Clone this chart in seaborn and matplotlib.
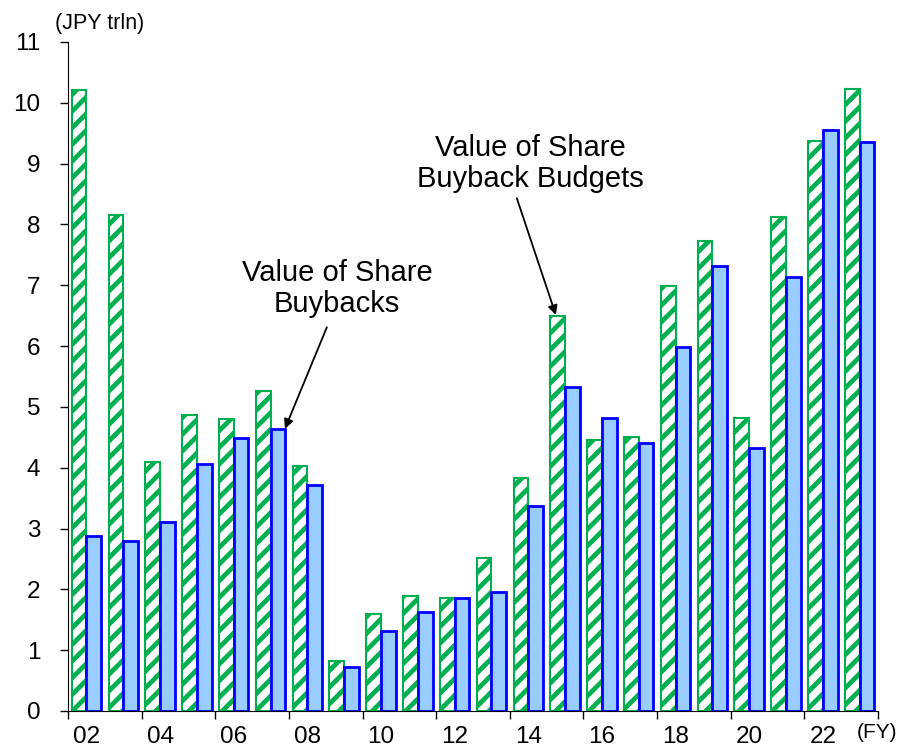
import numpy as np
import pandas as pd
import seaborn as sns
import matplotlib.pyplot as plt

years = ["02", "03", "04", "05", "06", "07", "08", "09", "10", "11", "12",
         "13", "14", "15", "16", "17", "18", "19", "20", "21", "22", "23"]
budgets = [10.21, 8.16, 4.10, 4.86, 4.80, 5.26, 4.03, 0.82, 1.59, 1.89, 1.86,
           2.51, 3.83, 6.50, 4.46, 4.51, 6.98, 7.72, 4.82, 8.12, 9.37, 10.23]
buybacks = [2.88, 2.79, 3.10, 4.06, 4.49, 4.63, 3.72, 0.73, 1.32, 1.63, 1.85,
            1.96, 3.37, 5.32, 4.81, 4.41, 5.99, 7.32, 4.32, 7.13, 9.56, 9.36]

df = pd.DataFrame({
    "FY": years * 2,
    "series": ["Budget"] * len(years) + ["Buyback"] * len(years),
    "value": budgets + buybacks,
})

sns.set_style("ticks")
plt.rcParams["font.family"] = ["Liberation Sans", "DejaVu Sans"]
plt.rcParams["hatch.linewidth"] = 3.4
plt.rcParams["text.color"] = "black"
plt.rcParams["axes.edgecolor"] = "black"
plt.rcParams["xtick.color"] = "black"
plt.rcParams["ytick.color"] = "black"

fig = plt.figure(figsize=(9, 7.47), dpi=100)
ax = fig.add_axes([0.0756, 0.0482, 0.9, 0.8956])

sns.barplot(data=df, x="FY", y="value", hue="series",
            hue_order=["Budget", "Buyback"], width=0.8, dodge=True,
            legend=False, ax=ax)

green = "#00B050"
for bar in ax.containers[0]:
    bar.set_facecolor("white")
    bar.set_edgecolor(green)
    bar.set_hatch("//")
    bar.set_linewidth(1.5)
for bar in ax.containers[1]:
    bar.set_facecolor("#99CCFF")
    bar.set_edgecolor("#0000FF")
    bar.set_linewidth(2.0)

ax.set_xlim(-0.5, 21.5)
ax.set_ylim(0, 11)
ax.set_yticks(range(0, 12))
ax.tick_params(axis="y", labelsize=17.5, length=6, width=1, pad=14)

ax.set_xticks(np.arange(-0.5, 22, 2))
ax.set_xticklabels([])
ax.set_xticks(range(0, 22, 2), minor=True)
ax.set_xticklabels(years[::2], minor=True)
ax.tick_params(axis="x", which="major", length=6, width=1)
ax.tick_params(axis="x", which="minor", length=0, labelsize=17.5, pad=11)
ax.set_xlabel("")
ax.set_ylabel("")
sns.despine(ax=ax)

ax.text(6.81, 6.95, "Value of Share\nBuybacks", ha="center", va="center",
        fontsize=21, linespacing=1.15)
ax.annotate("", xy=(5.39, 4.64), xytext=(6.53, 6.31),
            arrowprops=dict(arrowstyle="-|>", color="black", lw=1.3,
                            mutation_scale=14, shrinkA=0, shrinkB=0))
ax.text(12.05, 9.0, "Value of Share\nBuyback Budgets", ha="center",
        va="center", fontsize=21, linespacing=1.15)
ax.annotate("", xy=(12.75, 6.51), xytext=(11.69, 8.43),
            arrowprops=dict(arrowstyle="-|>", color="black", lw=1.3,
                            mutation_scale=14, shrinkA=0, shrinkB=0))

fig.text(100 / 900, 1 - 24 / 747, "(JPY trln)", ha="center", va="center",
         fontsize=15.5)
fig.text(877 / 900, 1 - 733 / 747, "(FY)", ha="center", va="center",
         fontsize=15)

fig.savefig("out.png", dpi=100)
